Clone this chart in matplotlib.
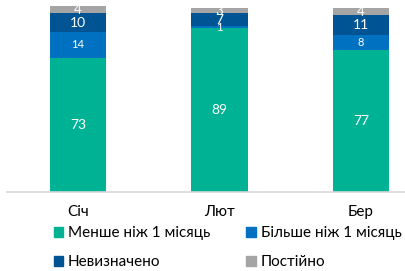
import numpy as np
import matplotlib
matplotlib.use("Agg")
import matplotlib.pyplot as plt
from matplotlib.patches import Patch

plt.rcParams['font.family'] = ['Lato', 'DejaVu Sans']

months = ['Січ', 'Лют', 'Бер']
series = ['Менше ніж 1 місяць', 'Більше ніж 1 місяць', 'Невизначено', 'Постійно']
less_1m = [73, 89, 77]
more_1m = [14, 1, 8]
undefined = [10, 7, 11]
permanent = [4, 3, 4]
values = [less_1m, more_1m, undefined, permanent]
colors = ['#00B294', '#0070C0', '#005493', '#A5A5A5']
label_sizes = [10, 8, 10, 9.5]

fig = plt.figure(figsize=(4.06, 2.71), dpi=100)
ax = fig.add_axes([7 / 406, 0.290, 399 / 406, 0.688])

x = np.arange(len(months))
bottom = np.zeros(len(months))
for vals, col, fs in zip(values, colors, label_sizes):
    ax.bar(x, vals, width=0.4, bottom=bottom, color=col, clip_on=False)
    for xi, b, v in zip(x, bottom, vals):
        ax.text(xi, b + v / 2, str(v), ha='center', va='center',
                color='white', fontsize=fs)
    bottom += np.array(vals)

ax.set_xlim(-0.502, 2.318)
ax.set_ylim(0, 101)
ax.set_yticks([])
ax.set_xticks(x)
ax.set_xticklabels(months, fontsize=11)
ax.tick_params(axis='x', length=0, pad=9)
for s in ['top', 'right', 'left']:
    ax.spines[s].set_visible(False)
ax.spines['bottom'].set_color('#D9D9D9')
ax.spines['bottom'].set_linewidth(1.2)

# legend is filled column by column, so order it to read row by row
handles = [Patch(color=c, label=l) for c, l in zip(colors, series)]
handles = [handles[0], handles[2], handles[1], handles[3]]
fig.legend(handles=handles, ncol=2, loc='lower left',
           bbox_to_anchor=(0.098, -0.045), frameon=False, fontsize=11,
           handlelength=0.65, handleheight=0.65, handletextpad=0.3,
           columnspacing=2.33, labelspacing=1.0)

fig.savefig('out.png', dpi=100)
